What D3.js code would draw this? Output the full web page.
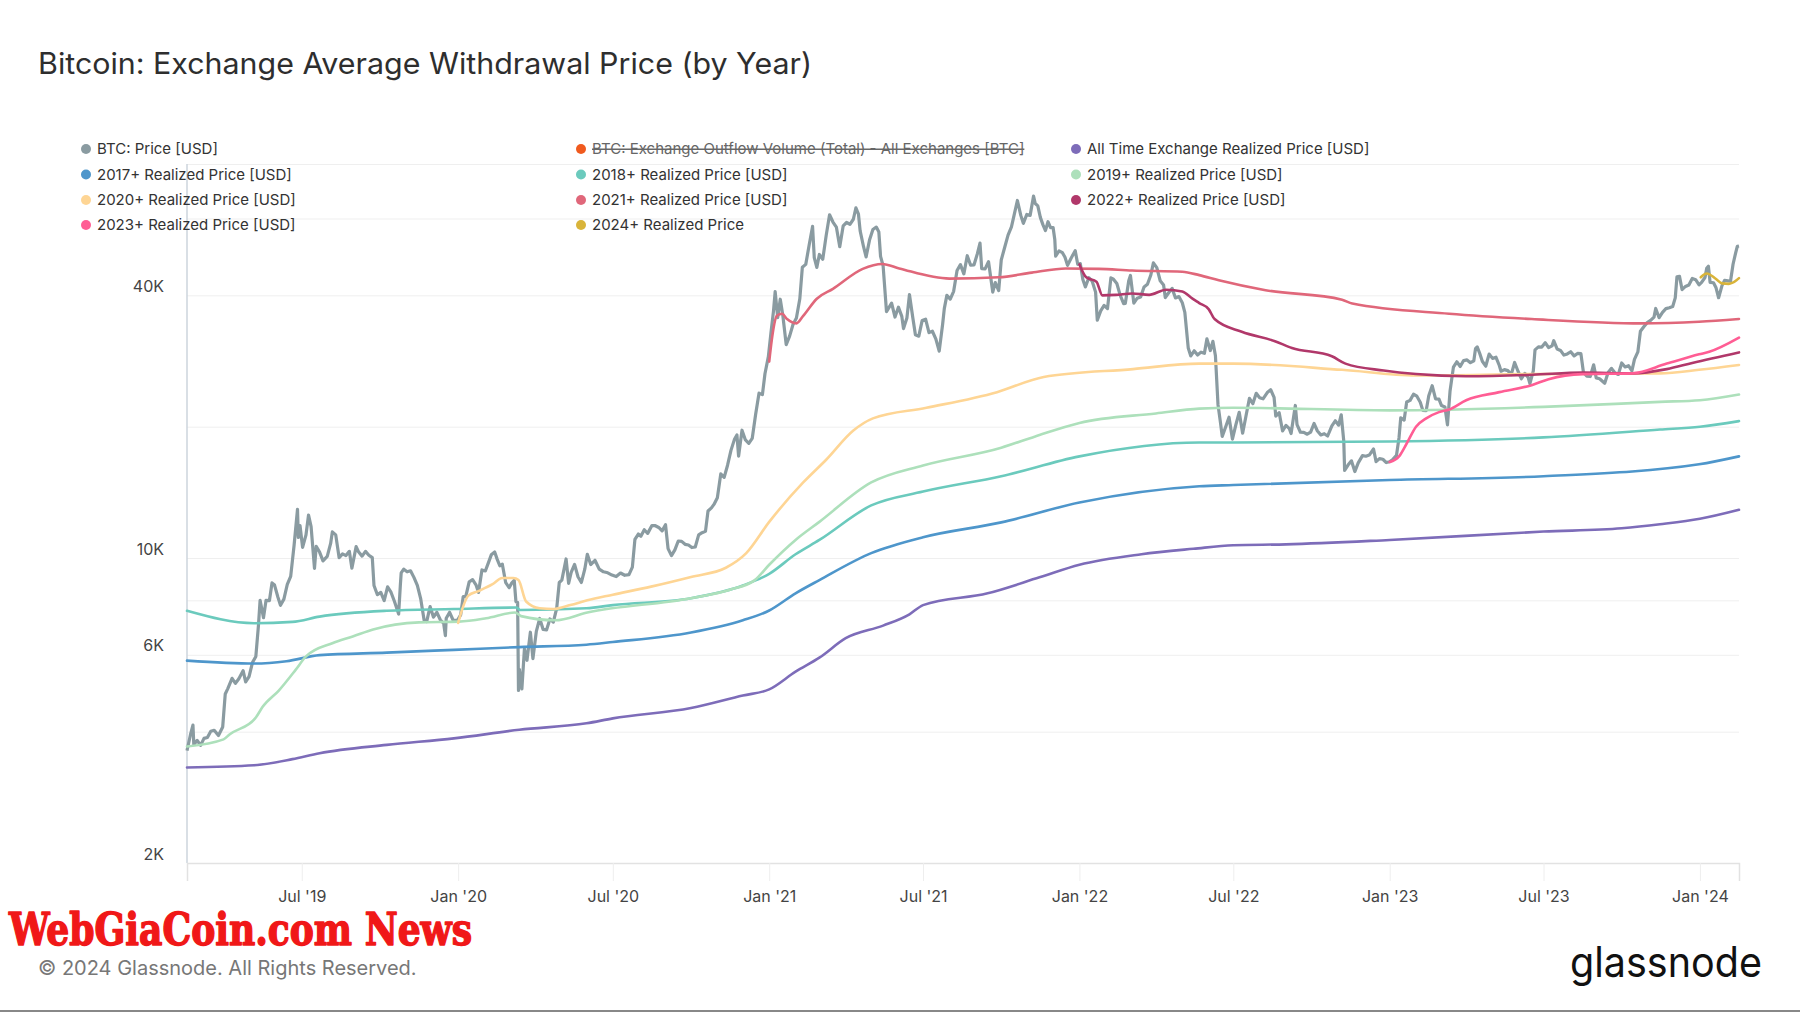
<!DOCTYPE html>
<html>
<head>
<meta charset="utf-8">
<script src="https://cdn.jsdelivr.net/npm/d3@7"></script>
<style>
  html, body { margin: 0; padding: 0; background: #fff; }
  svg { display: block; }
</style>
</head>
<body>
<svg id="chart" width="1800" height="1013" font-family="Inter, 'Noto Sans', sans-serif"></svg>
<script>
// ---------------- DATA ----------------
const chartTitle = "Bitcoin: Exchange Average Withdrawal Price (by Year)";
const xTickDates = ["2019-07-01","2020-01-01","2020-07-01","2021-01-01","2021-07-01","2022-01-01","2022-07-01","2023-01-01","2023-07-01","2024-01-01"];
const yGridValues = [4000, 6000, 8000, 10000, 20000, 40000, 60000, 80000];
const yLabelValues = [2000, 6000, 10000, 40000];
const yLabelText = ["2K", "6K", "10K", "40K"];

const legendNames = [
  "BTC: Price [USD]", "BTC: Exchange Outflow Volume (Total) - All Exchanges [BTC]", "All Time Exchange Realized Price [USD]",
  "2017+ Realized Price [USD]", "2018+ Realized Price [USD]", "2019+ Realized Price [USD]",
  "2020+ Realized Price [USD]", "2021+ Realized Price [USD]", "2022+ Realized Price [USD]",
  "2023+ Realized Price [USD]", "2024+ Realized Price"
];

const btcPrice = [
["2019-02-16",3620],["2019-02-20",3930],["2019-02-23",4140],["2019-02-24",3740],["2019-02-28",3820],["2019-03-04",3720],["2019-03-08",3860],["2019-03-12",3880],["2019-03-16",4010],["2019-03-20",4030],["2019-03-25",3920],["2019-03-30",4100],
["2019-04-02",4880],["2019-04-05",5020],["2019-04-10",5300],["2019-04-14",5160],["2019-04-18",5290],["2019-04-23",5520],["2019-04-26",5200],["2019-04-30",5350],
["2019-05-04",5760],["2019-05-08",5950],["2019-05-11",6980],["2019-05-13",8000],["2019-05-17",7300],["2019-05-20",8000],["2019-05-24",7990],["2019-05-27",8770],["2019-05-30",8670],
["2019-06-03",8130],["2019-06-06",7790],["2019-06-10",8050],["2019-06-14",8700],["2019-06-18",9080],["2019-06-22",10700],["2019-06-26",12930],["2019-06-27",11150],["2019-06-29",11860],
["2019-07-02",10580],["2019-07-06",11300],["2019-07-09",12550],["2019-07-12",11800],["2019-07-16",9470],["2019-07-18",10640],["2019-07-22",10320],["2019-07-26",9850],["2019-07-31",10090],
["2019-08-04",10800],["2019-08-06",11480],["2019-08-10",11300],["2019-08-14",10020],["2019-08-18",10220],["2019-08-22",10130],["2019-08-26",10360],["2019-08-29",9480],
["2019-09-03",10620],["2019-09-06",10320],["2019-09-10",10100],["2019-09-14",10360],["2019-09-18",10150],["2019-09-22",10020],["2019-09-24",8650],["2019-09-28",8240],
["2019-10-02",8340],["2019-10-06",7990],["2019-10-10",8590],["2019-10-14",8350],["2019-10-18",7960],["2019-10-23",7440],["2019-10-25",8660],["2019-10-26",9250],["2019-10-29",9430],
["2019-11-02",9300],["2019-11-06",9350],["2019-11-10",9030],["2019-11-14",8660],["2019-11-18",8060],["2019-11-22",7200],["2019-11-25",7150],["2019-11-29",7740],
["2019-12-03",7320],["2019-12-07",7510],["2019-12-11",7220],["2019-12-15",7080],["2019-12-17",6640],["2019-12-18",7280],["2019-12-22",7510],["2019-12-26",7210],["2019-12-31",7190],
["2020-01-04",7410],["2020-01-07",8160],["2020-01-10",8170],["2020-01-14",8820],["2020-01-18",8920],["2020-01-22",8680],["2020-01-25",8340],["2020-01-29",9390],
["2020-02-02",9340],["2020-02-06",9800],["2020-02-09",10170],["2020-02-13",10320],["2020-02-16",9930],["2020-02-19",9600],["2020-02-22",9680],["2020-02-26",8780],
["2020-03-01",8550],["2020-03-04",8760],["2020-03-07",8890],["2020-03-09",7940],["2020-03-11",7910],["2020-03-12",4970],["2020-03-13",5560],["2020-03-16",5010],["2020-03-19",6190],["2020-03-22",5830],["2020-03-26",6760],["2020-03-29",5880],
["2020-04-02",6790],["2020-04-06",7270],["2020-04-10",6860],["2020-04-14",6840],["2020-04-18",7250],["2020-04-22",7130],["2020-04-26",7680],["2020-04-29",8790],
["2020-05-02",8900],["2020-05-07",9950],["2020-05-10",8750],["2020-05-13",9270],["2020-05-17",9670],["2020-05-21",9060],["2020-05-25",8790],["2020-05-29",9430],
["2020-06-01",10200],["2020-06-05",9660],["2020-06-10",9880],["2020-06-15",9430],["2020-06-20",9300],["2020-06-25",9250],["2020-06-30",9140],
["2020-07-05",9070],["2020-07-10",9240],["2020-07-15",9130],["2020-07-20",9160],["2020-07-24",9530],["2020-07-27",11030],["2020-07-31",11350],
["2020-08-03",11220],["2020-08-07",11610],["2020-08-11",11390],["2020-08-16",11870],["2020-08-20",11860],["2020-08-24",11750],["2020-08-28",11540],
["2020-09-01",11920],["2020-09-04",10510],["2020-09-08",10130],["2020-09-12",10440],["2020-09-16",10940],["2020-09-20",10920],["2020-09-24",10750],["2020-09-28",10710],
["2020-10-02",10570],["2020-10-06",10600],["2020-10-10",11300],["2020-10-14",11430],["2020-10-18",11510],["2020-10-21",12820],["2020-10-25",13030],["2020-10-28",13270],
["2020-11-01",13740],["2020-11-05",15590],["2020-11-09",15310],["2020-11-13",16320],["2020-11-17",17650],["2020-11-21",18680],["2020-11-24",19150],["2020-11-26",17130],["2020-11-30",19630],
["2020-12-04",18650],["2020-12-08",18320],["2020-12-12",18800],["2020-12-16",21330],["2020-12-20",23870],["2020-12-24",23690],["2020-12-27",26440],["2020-12-31",28950],
["2021-01-03",32780],["2021-01-06",36760],["2021-01-08",40780],["2021-01-11",35560],["2021-01-14",39190],["2021-01-17",36020],["2021-01-21",30830],["2021-01-25",32260],["2021-01-29",34300],
["2021-02-02",35500],["2021-02-06",39270],["2021-02-09",46400],["2021-02-13",47100],["2021-02-17",52150],["2021-02-21",57540],["2021-02-23",48820],["2021-02-26",46340],
["2021-03-01",49630],["2021-03-05",48400],["2021-03-09",54820],["2021-03-13",61200],["2021-03-17",58900],["2021-03-21",57350],["2021-03-25",51700],["2021-03-29",57700],
["2021-04-02",58750],["2021-04-06",58200],["2021-04-10",59770],["2021-04-13",63500],["2021-04-16",61400],["2021-04-18",56200],["2021-04-22",51700],["2021-04-25",49000],["2021-04-29",53550],
["2021-05-03",56620],["2021-05-07",57350],["2021-05-10",55860],["2021-05-12",49150],["2021-05-15",46760],["2021-05-19",36700],["2021-05-22",37540],["2021-05-25",38400],["2021-05-29",35680],
["2021-06-02",37580],["2021-06-06",35800],["2021-06-08",33560],["2021-06-12",35500],["2021-06-15",40160],["2021-06-19",35500],["2021-06-22",32500],["2021-06-26",32240],["2021-06-30",35040],
["2021-07-04",35280],["2021-07-08",32860],["2021-07-12",33100],["2021-07-16",31800],["2021-07-20",29800],["2021-07-24",34290],["2021-07-26",37300],["2021-07-29",40000],
["2021-08-02",39200],["2021-08-06",40850],["2021-08-10",45600],["2021-08-14",47050],["2021-08-18",44800],["2021-08-22",49300],["2021-08-26",46900],["2021-08-30",46990],
["2021-09-03",49900],["2021-09-06",52700],["2021-09-08",46050],["2021-09-12",46000],["2021-09-16",47800],["2021-09-21",40700],["2021-09-24",42800],["2021-09-28",41030],
["2021-10-01",48200],["2021-10-05",51500],["2021-10-09",54960],["2021-10-13",57400],["2021-10-16",60900],["2021-10-20",65990],["2021-10-24",61000],["2021-10-27",58480],["2021-10-31",61300],
["2021-11-04",61000],["2021-11-08",67550],["2021-11-10",64950],["2021-11-13",64150],["2021-11-16",60370],["2021-11-19",58100],["2021-11-22",56300],["2021-11-25",59000],["2021-11-28",57200],
["2021-12-01",57200],["2021-12-03",53700],["2021-12-04",49200],["2021-12-08",50580],["2021-12-12",50100],["2021-12-15",48900],["2021-12-18",46850],["2021-12-22",48600],["2021-12-27",50640],["2021-12-30",47120],
["2022-01-02",47300],["2022-01-05",43500],["2022-01-08",41830],["2022-01-12",43900],["2022-01-16",43100],["2022-01-20",40680],["2022-01-22",35070],["2022-01-26",36850],["2022-01-30",37920],
["2022-02-03",37300],["2022-02-07",43880],["2022-02-10",43570],["2022-02-14",42590],["2022-02-18",40000],["2022-02-22",38300],["2022-02-24",38350],["2022-02-28",43190],
["2022-03-02",44420],["2022-03-06",38400],["2022-03-10",39400],["2022-03-14",39670],["2022-03-18",41800],["2022-03-22",42400],["2022-03-26",44540],["2022-03-29",47460],
["2022-04-02",46300],["2022-04-06",43200],["2022-04-10",42250],["2022-04-12",39530],["2022-04-16",40550],["2022-04-20",41500],["2022-04-24",39450],["2022-04-28",39750],
["2022-05-02",38470],["2022-05-05",36550],["2022-05-09",30300],["2022-05-12",29050],["2022-05-16",29850],["2022-05-20",29200],["2022-05-24",29640],["2022-05-28",29450],["2022-05-31",31790],
["2022-06-04",29900],["2022-06-07",31370],["2022-06-10",29080],["2022-06-13",22490],["2022-06-16",20380],["2022-06-18",19000],["2022-06-22",19970],["2022-06-26",21030],["2022-06-30",18730],
["2022-07-04",20200],["2022-07-08",21580],["2022-07-12",19320],["2022-07-16",21190],["2022-07-20",23230],["2022-07-24",22580],["2022-07-28",23850],
["2022-08-01",23310],["2022-08-05",23170],["2022-08-10",23950],["2022-08-14",24310],["2022-08-18",23340],["2022-08-20",21140],["2022-08-24",21530],["2022-08-28",19550],
["2022-09-01",20130],["2022-09-05",19790],["2022-09-07",19290],["2022-09-12",22370],["2022-09-14",20230],["2022-09-18",19420],["2022-09-22",19410],["2022-09-26",19220],["2022-09-30",19430],
["2022-10-04",20340],["2022-10-08",19550],["2022-10-12",19150],["2022-10-16",19270],["2022-10-20",19040],["2022-10-25",20090],["2022-10-29",20630],
["2022-11-02",20160],["2022-11-05",21300],["2022-11-08",18540],["2022-11-09",15880],["2022-11-13",16330],["2022-11-17",16700],["2022-11-21",15780],["2022-11-25",16520],["2022-11-30",17170],
["2022-12-04",17110],["2022-12-08",17220],["2022-12-13",17780],["2022-12-16",16630],["2022-12-20",16900],["2022-12-24",16840],["2022-12-28",16550],
["2023-01-01",16620],["2023-01-05",16850],["2023-01-09",17190],["2023-01-12",18870],["2023-01-14",20960],["2023-01-18",20700],["2023-01-21",22780],["2023-01-25",22980],["2023-01-29",23740],
["2023-02-02",23490],["2023-02-06",22760],["2023-02-09",21800],["2023-02-13",21780],["2023-02-16",23550],["2023-02-20",24830],["2023-02-24",23160],["2023-02-28",23130],
["2023-03-03",22360],["2023-03-07",22190],["2023-03-10",20190],["2023-03-13",24110],["2023-03-17",27390],["2023-03-21",28170],["2023-03-25",27480],["2023-03-29",28350],
["2023-04-02",28450],["2023-04-06",28030],["2023-04-10",28320],["2023-04-12",30200],["2023-04-14",30480],["2023-04-17",29430],["2023-04-20",28250],["2023-04-24",27520],["2023-04-28",29340],
["2023-05-02",28680],["2023-05-06",28870],["2023-05-10",27620],["2023-05-12",26800],["2023-05-16",27030],["2023-05-20",26890],["2023-05-24",26330],["2023-05-28",28070],
["2023-06-01",26800],["2023-06-05",25760],["2023-06-09",26500],["2023-06-13",25920],["2023-06-15",25120],["2023-06-19",26840],["2023-06-21",30000],["2023-06-25",30470],["2023-06-29",30450],
["2023-07-03",31160],["2023-07-07",30350],["2023-07-11",30630],["2023-07-13",31480],["2023-07-17",30140],["2023-07-21",29910],["2023-07-25",29180],["2023-07-29",29360],
["2023-08-02",29700],["2023-08-06",29060],["2023-08-10",29440],["2023-08-14",29400],["2023-08-17",26630],["2023-08-21",26120],["2023-08-25",26060],["2023-08-29",27730],
["2023-09-01",25870],["2023-09-05",25750],["2023-09-11",25160],["2023-09-15",26610],["2023-09-19",27210],["2023-09-23",26580],["2023-09-27",26350],
["2023-10-01",27990],["2023-10-05",27410],["2023-10-09",27590],["2023-10-13",26860],["2023-10-16",28520],["2023-10-20",29670],["2023-10-23",33090],["2023-10-27",33900],["2023-10-31",34640],
["2023-11-04",35050],["2023-11-08",35650],["2023-11-10",37320],["2023-11-14",35550],["2023-11-18",36570],["2023-11-22",37290],["2023-11-26",37470],["2023-11-30",37720],
["2023-12-03",39470],["2023-12-05",44080],["2023-12-08",44200],["2023-12-11",41240],["2023-12-15",41930],["2023-12-19",42260],["2023-12-23",43740],["2023-12-27",43440],["2023-12-31",42280],
["2024-01-03",42840],["2024-01-07",43940],["2024-01-09",46120],["2024-01-11",46630],["2024-01-13",42850],["2024-01-17",42740],["2024-01-20",41620],["2024-01-23",39500],["2024-01-27",42100],["2024-01-30",43300],
["2024-02-03",43190],["2024-02-06",43090],["2024-02-09",47130],["2024-02-12",50000],["2024-02-14",51800],["2024-02-16",51900]
];

const rpAllTime = [["2019-02-16",3310],["2019-05-06",3350],["2019-06-20",3460],["2019-07-22",3570],["2019-10-09",3730],["2019-12-27",3860],["2020-03-13",4040],["2020-05-31",4180],["2020-07-01",4290],["2020-10-01",4530],["2020-12-01",4840],["2021-01-01",5000],["2021-02-01",5490],["2021-03-01",5910],["2021-04-01",6550],["2021-05-15",7000],["2021-06-15",7430],["2021-07-01",7800],["2021-09-15",8300],["2021-11-15",9030],["2022-01-01",9650],["2022-03-15",10200],["2022-05-15",10500],["2022-07-01",10700],["2022-09-01",10750],["2023-01-01",11000],["2023-07-01",11500],["2023-10-01",11700],["2023-11-15",11950],["2024-01-01",12300],["2024-02-16",12900]];
const rp2017 = [["2019-02-16",5820],["2019-05-06",5730],["2019-06-13",5800],["2019-07-22",5990],["2019-10-09",6070],["2019-12-27",6160],["2020-03-13",6250],["2020-05-31",6330],["2020-07-01",6420],["2020-10-01",6750],["2020-12-01",7200],["2021-01-01",7580],["2021-02-01",8300],["2021-03-01",8900],["2021-05-01",10260],["2021-07-01",11160],["2021-10-01",12070],["2022-01-01",13400],["2022-05-22",14600],["2022-07-01",14700],["2023-01-01",15100],["2023-07-01",15400],["2023-12-31",16400],["2024-02-16",17100]];
const rp2018 = [["2019-02-16",7570],["2019-05-06",7090],["2019-06-20",7140],["2019-07-22",7340],["2019-10-09",7570],["2019-12-27",7640],["2020-03-10",7700],["2020-03-14",7600],["2020-05-31",7670],["2020-07-01",7800],["2020-10-01",8090],["2020-12-01",8650],["2021-01-01",9200],["2021-02-01",10200],["2021-03-01",11000],["2021-05-01",13200],["2021-07-01",14200],["2021-10-01",15400],["2022-01-01",17100],["2022-05-22",18400],["2022-07-01",18400],["2023-01-01",18500],["2023-07-01",18900],["2023-11-15",19700],["2024-01-01",20000],["2024-02-16",20600]];
const rp2019 = [["2019-02-16",3700],["2019-03-31",3840],["2019-04-07",3940],["2019-05-08",4310],["2019-05-16",4560],["2019-06-04",4970],["2019-06-24",5550],["2019-07-06",5950],["2019-08-06",6380],["2019-08-30",6610],["2019-09-23",6860],["2019-11-16",7120],["2020-01-02",7150],["2020-02-03",7280],["2020-03-08",7500],["2020-03-15",7360],["2020-04-24",7200],["2020-06-01",7500],["2020-10-01",8090],["2020-11-15",8450],["2020-12-15",8900],["2021-01-01",9650],["2021-02-01",11000],["2021-03-01",12100],["2021-05-01",14900],["2021-07-01",16300],["2021-10-01",17900],["2021-11-10",19000],["2022-01-01",20400],["2022-04-01",21450],["2022-05-22",22000],["2022-07-01",22100],["2023-01-01",21800],["2023-07-01",22200],["2023-11-15",22800],["2024-01-01",23000],["2024-02-16",23700]];
const rp2020 = [["2020-01-01",7100],["2020-01-13",8200],["2020-01-25",8400],["2020-02-10",8700],["2020-02-22",9000],["2020-03-06",9000],["2020-03-12",8900],["2020-03-21",7950],["2020-04-06",7670],["2020-04-22",7640],["2020-05-12",7800],["2020-06-01",8000],["2020-07-01",8240],["2020-08-15",8600],["2020-10-01",9050],["2020-11-11",9500],["2020-12-05",10260],["2021-01-01",12100],["2021-02-10",14900],["2021-03-09",16800],["2021-04-10",19600],["2021-05-03",20900],["2021-07-05",22100],["2021-09-26",24000],["2021-11-20",26000],["2022-03-05",27100],["2022-05-22",27900],["2022-07-01",27900],["2022-11-06",27000],["2023-02-01",26200],["2023-06-15",26400],["2023-11-15",26500],["2023-12-31",27000],["2024-02-16",27700]];
const rp2021 = [["2021-01-01",28200],["2021-01-04",31600],["2021-01-10",35900],["2021-01-16",36300],["2021-01-22",35300],["2021-02-02",34500],["2021-02-10",35900],["2021-02-26",39300],["2021-03-17",41400],["2021-04-21",46000],["2021-05-14",47200],["2021-06-03",46100],["2021-08-01",43700],["2021-09-28",44000],["2021-11-06",45100],["2021-12-16",46100],["2022-01-24",46000],["2022-03-04",45600],["2022-05-02",45300],["2022-05-22",44500],["2022-06-14",43300],["2022-08-08",41100],["2022-11-06",39100],["2022-11-18",38300],["2023-03-12",36300],["2023-06-17",35300],["2023-10-24",34500],["2023-12-31",34800],["2024-02-16",35300]];
const rp2022 = [["2022-01-01",47100],["2022-01-09",44000],["2022-01-21",43000],["2022-01-28",40000],["2022-02-13",40100],["2022-03-04",40400],["2022-03-24",40100],["2022-04-13",41200],["2022-05-02",40800],["2022-05-14",39300],["2022-05-22",38400],["2022-06-02",37200],["2022-06-09",35300],["2022-07-11",33000],["2022-08-19",31400],["2022-09-08",30300],["2022-10-25",29000],["2022-11-10",27900],["2022-12-25",26900],["2023-02-01",26400],["2023-04-01",26100],["2023-06-18",26300],["2023-08-16",26600],["2023-10-14",26500],["2023-11-23",27100],["2023-12-23",28000],["2024-02-16",29600]];
const rp2023 = [["2023-01-01",16600],["2023-01-12",17100],["2023-01-21",18300],["2023-02-01",20000],["2023-02-13",20900],["2023-02-28",21600],["2023-03-12",21900],["2023-04-01",23000],["2023-05-10",24000],["2023-06-17",24900],["2023-07-07",25700],["2023-08-16",26400],["2023-10-14",26500],["2023-11-23",27900],["2023-12-31",29300],["2024-01-12",29700],["2024-02-16",32000]];
const rp2024 = [["2024-01-02",44000],["2024-01-09",44900],["2024-01-20",43600],["2024-01-27",42600],["2024-02-04",42500],["2024-02-13",43300],["2024-02-16",43800]];

const seriesColors = ["#8a9ba1", "#f05a1e", "#7d6cb9", "#4e96cb", "#6bcabd", "#ade0bb", "#fed594", "#e0677a", "#b1386a", "#ff5d94", "#d9b43a"];

// ---------------- LAYOUT ----------------
const W = 1800, H = 1013;
const M = { left: 187, right: 1739, top: 164, bottom: 863 };
const parse = d3.utcParse("%Y-%m-%d");
const svg = d3.select("#chart");

const x = d3.scaleUtc().domain([parse("2019-02-16"), parse("2024-02-16")]).range([M.left, M.right]);
const y = d3.scaleLog().domain([2000, 80000]).range([M.bottom, M.top]);

// title
svg.append("text").attr("x", 38).attr("y", 74)
  .attr("font-size", 29.5).attr("font-weight", 400).attr("fill", "#2e2e2e")
  .attr("textLength", 774).attr("lengthAdjust", "spacingAndGlyphs")
  .text(chartTitle);

// gridlines
svg.append("g").attr("transform", `translate(${M.left},0)`)
  .call(d3.axisLeft(y).tickValues(yGridValues).tickSize(-(M.right - M.left)).tickFormat(""))
  .call(g => g.select(".domain").remove())
  .call(g => g.selectAll("line").attr("stroke", "#efefef").attr("stroke-width", 1));

// y labels
svg.append("g").attr("transform", `translate(${M.left},0)`)
  .call(d3.axisLeft(y).tickValues(yLabelValues).tickSize(0).tickPadding(23)
    .tickFormat((d, i) => yLabelText[i]))
  .call(g => g.select(".domain").remove())
  .call(g => g.selectAll("text").attr("font-size", 16).attr("fill", "#444")
    .attr("font-family", "Inter, sans-serif").attr("dy", "-0.24em"));

// left axis line
svg.append("line").attr("x1", M.left).attr("x2", M.left).attr("y1", M.top).attr("y2", M.bottom)
  .attr("stroke", "#cdd5dc").attr("stroke-width", 1.5);

// x axis
svg.append("g").attr("transform", `translate(0,${M.bottom})`)
  .call(d3.axisBottom(x).tickValues(xTickDates.map(parse)).tickSize(18).tickPadding(10)
    .tickFormat(d3.utcFormat("%b '%y")))
  .call(g => g.select(".domain").attr("stroke", "#e2e2e2").attr("stroke-width", 1.5))
  .call(g => g.selectAll(".tick line").attr("stroke", "#eeeeee"))
  .call(g => g.selectAll("text").attr("font-size", 16).attr("fill", "#444")
    .attr("font-family", "Inter, sans-serif"));

// lines
const toPts = arr => arr.map(d => ({ date: parse(d[0]), v: d[1] }));
const lineLinear = d3.line().x(d => x(d.date)).y(d => y(d.v));
const lineSmooth = d3.line().x(d => x(d.date)).y(d => y(d.v)).curve(d3.curveMonotoneX);

const plot = svg.append("g");
plot.append("path").datum(toPts(btcPrice)).attr("d", lineLinear)
  .attr("fill", "none").attr("stroke", seriesColors[0]).attr("stroke-width", 3.2)
  .attr("stroke-linejoin", "round");

const realized = [
  [rpAllTime, 2], [rp2017, 3], [rp2018, 4], [rp2019, 5], [rp2020, 6],
  [rp2021, 7], [rp2022, 8], [rp2023, 9], [rp2024, 10]
];
realized.forEach(([arr, ci]) => {
  plot.append("path").datum(toPts(arr)).attr("d", lineSmooth)
    .attr("fill", "none").attr("stroke", seriesColors[ci]).attr("stroke-width", 2.6)
    .attr("stroke-linejoin", "round").attr("stroke-linecap", "round");
});

// legend
const colX = [86, 581, 1076];
const rowY = [149, 174.5, 200, 225];
const leg = svg.append("g");
legendNames.forEach((name, i) => {
  const cx = colX[i % 3], cy = rowY[Math.floor(i / 3)];
  leg.append("circle").attr("cx", cx).attr("cy", cy).attr("r", 5).attr("fill", seriesColors[i]);
  const t = leg.append("text").attr("x", cx + 11).attr("y", cy).attr("dy", "0.35em")
    .attr("font-size", 15).attr("fill", i === 1 ? "#666" : "#333").text(name);
  if (i === 1) t.attr("text-decoration", "line-through");
});

// watermark
svg.append("text").attr("x", 9).attr("y", 945)
  .attr("font-family", "'DejaVu Serif Condensed', 'DejaVu Serif', serif")
  .attr("font-stretch", "condensed")
  .attr("font-weight", "bold").attr("font-size", 44).attr("fill", "#f01818")
  .attr("stroke", "#f01818").attr("stroke-width", 1.4).attr("stroke-linejoin", "round")
  .attr("textLength", 463).attr("lengthAdjust", "spacingAndGlyphs")
  .text("WebGiaCoin.com News");

// footer
svg.append("text").attr("x", 38).attr("y", 975)
  .attr("font-size", 20).attr("fill", "#777")
  .text("© 2024 Glassnode. All Rights Reserved.");

svg.append("text").attr("x", 1570).attr("y", 977)
  .attr("font-size", 42).attr("font-weight", 400).attr("fill", "#111")
  .attr("textLength", 192).attr("lengthAdjust", "spacingAndGlyphs")
  .text("glassnode");

svg.append("line").attr("x1", 0).attr("x2", W).attr("y1", 1011).attr("y2", 1011)
  .attr("stroke", "#888").attr("stroke-width", 2);
</script>
</body>
</html>
